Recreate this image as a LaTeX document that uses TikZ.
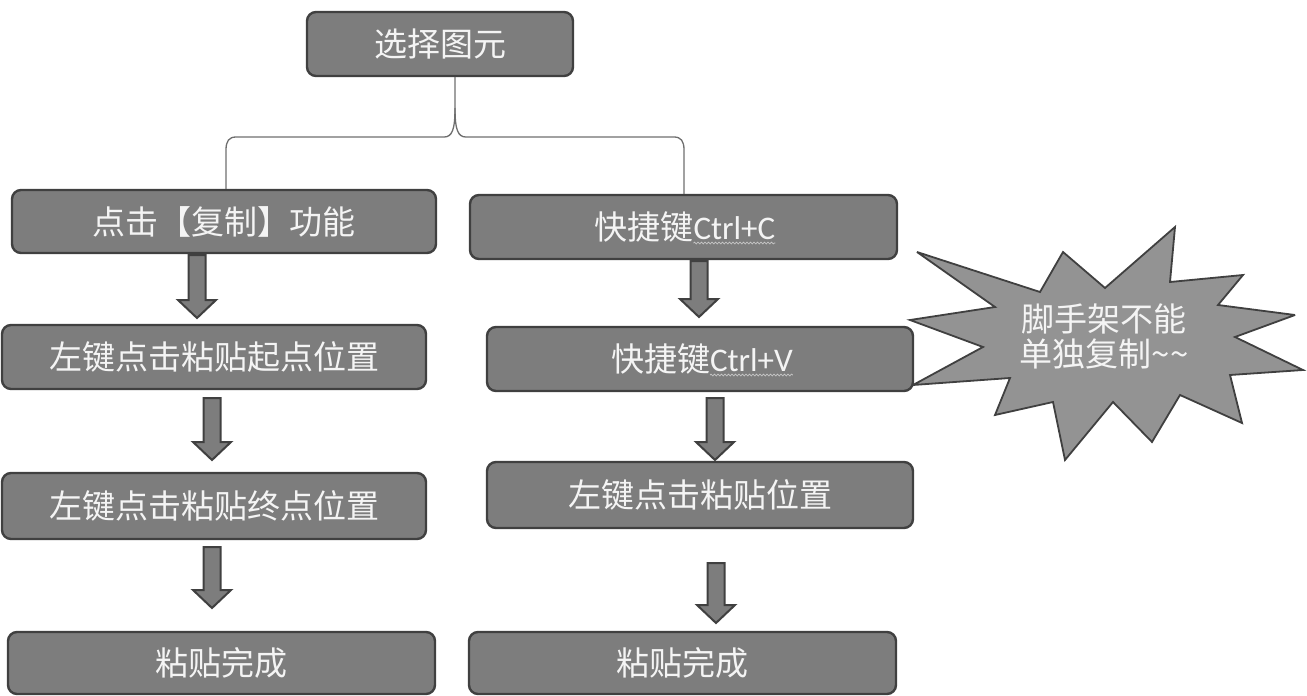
\documentclass[tikz,border=0pt]{standalone}
\usepackage{fontspec}
\newfontfamily\cjkf{Noto Sans CJK SC}
\newfontfamily\latf{Carlito}
\usetikzlibrary{calc,decorations.pathmorphing}
\definecolor{boxfill}{HTML}{7D7D7D}
\definecolor{boxedge}{HTML}{404040}
\definecolor{burstfill}{HTML}{939393}
\definecolor{linegray}{HTML}{6E6E6E}
\definecolor{txt}{HTML}{F4F4F4}
\definecolor{squigc}{HTML}{C8C8C8}
\newcommand\blockarrow[2]{%
  \draw[barrow] ($(#1)+(-8.5,0)$) -- ($(#2)+(-8.5,-18)$) -- ($(#2)+(-19,-18)$) -- (#2) -- ($(#2)+(19,-18)$) -- ($(#2)+(8.5,-18)$) -- ($(#1)+(8.5,0)$) -- cycle;}
\begin{document}
\begin{tikzpicture}[x=1pt,y=-1pt,
  box/.style={rectangle, rounded corners=9pt, draw=boxedge, line width=2.4pt, fill=boxfill, text=txt, font=\cjkf\fontsize{33}{38}\selectfont, inner sep=0pt},
  boxtext/.style={text=txt, font=\cjkf\fontsize{33}{38}\selectfont, inner sep=0pt, outer sep=0pt},
  lattext/.style={text=txt, font=\latf\fontsize{33}{38}\selectfont, inner sep=0pt, outer sep=0pt},
  squiggle/.style={draw=squigc, line width=0.7pt, decorate, decoration={snake, amplitude=0.9pt, segment length=3.5pt}},
  brace/.style={draw=linegray, line width=1.3pt},
  barrow/.style={fill=boxfill, draw=boxedge, line width=2pt, line join=miter},
  burstst/.style={fill=burstfill, draw=boxedge, line width=1.8pt, line join=miter, miter limit=4},
  bursttext/.style={text=txt, font=\cjkf\fontsize{33}{35}\selectfont, align=center, inner sep=0pt}]
\useasboundingbox (0,0) rectangle (1307,696);

% boxes
\node[box, minimum width=266pt, minimum height=64pt] (top) at (440,44) {选择图元};
\node[box, minimum width=424pt, minimum height=63pt] (b1) at (224,221.5) {点击【复制】功能};
\node[box, minimum width=424pt, minimum height=64pt] (b2) at (214,357) {左键点击粘贴起点位置};
\node[box, minimum width=424pt, minimum height=66pt] (b3) at (214,506) {左键点击粘贴终点位置};
\node[box, minimum width=427pt, minimum height=62pt] (b4) at (221.5,663) {粘贴完成};
\node[box, minimum width=427pt, minimum height=64pt] (r1) at (683.5,227) {};
\node[box, minimum width=426pt, minimum height=64pt] (r2) at (700,359) {};
\node[box, minimum width=426pt, minimum height=66pt] (r3) at (700,495) {左键点击粘贴位置};
\node[box, minimum width=427pt, minimum height=62pt] (r4) at (682.5,663) {粘贴完成};

% texts with wavy underline
\node[boxtext, anchor=west] (r1a) at ($(r1.center)+(-89,0)$) {快捷键};
\node[lattext, anchor=base west] (r1b) at (r1a.base east) {Ctrl+C};
\draw[squiggle] ([yshift=-3.5pt]r1b.base west) -- ([yshift=-3.5pt]r1b.base east);
\node[boxtext, anchor=west] (r2a) at ($(r2.center)+(-89,0)$) {快捷键};
\node[lattext, anchor=base west] (r2b) at (r2a.base east) {Ctrl+V};
\draw[squiggle] ([yshift=-3.5pt]r2b.base west) -- ([yshift=-3.5pt]r2b.base east);

% brace
\coordinate (stem) at (455,108);
\coordinate (lx) at (226,0);
\coordinate (rx) at (684,0);
\draw[brace] (stem |- top.south) -- (stem) .. controls (455,130) and (452,137) .. (444,137) -- (236,137) .. controls (229,137) and (226,141) .. (226,150) -- (lx |- b1.north);
\draw[brace] (stem) .. controls (455,130) and (458,137) .. (466,137) -- (674,137) .. controls (681,137) and (684,141) .. (684,150) -- (rx |- r1.north);

% block arrows
\coordinate (a1s) at (197,255); \coordinate (a1e) at (197,318);
\coordinate (a2s) at (212,398); \coordinate (a2e) at (212,460);
\coordinate (a3s) at (212,547); \coordinate (a3e) at (212,608);
\coordinate (a4s) at (699,261); \coordinate (a4e) at (699,317);
\coordinate (a5s) at (715,398); \coordinate (a5e) at (715,460);
\coordinate (a6s) at (716,563); \coordinate (a6e) at (716,623);
\blockarrow{a1s}{a1e}
\blockarrow{a2s}{a2e}
\blockarrow{a3s}{a3e}
\blockarrow{a4s}{a4e}
\blockarrow{a5s}{a5e}
\blockarrow{a6s}{a6e}

% starburst
\draw[burstst] (917,252) -- (1040,292) -- (1063,252) -- (1105,288) -- (1175,227) -- (1170,282) -- (1243,275) -- (1218,305) -- (1295,315) -- (1235,337) -- (1303,370) -- (1230,375) -- (1242,423) -- (1180,395) -- (1152,442) -- (1113,402) -- (1065,460) -- (1053,402) -- (995,415) -- (1010,378) -- (913,385) -- (983,347) -- (910,320) -- (995,307) -- cycle;
\node[bursttext] (burst) at (1104,336) {脚手架不能\\单独复制\textasciitilde\textasciitilde};
\end{tikzpicture}
\end{document}
